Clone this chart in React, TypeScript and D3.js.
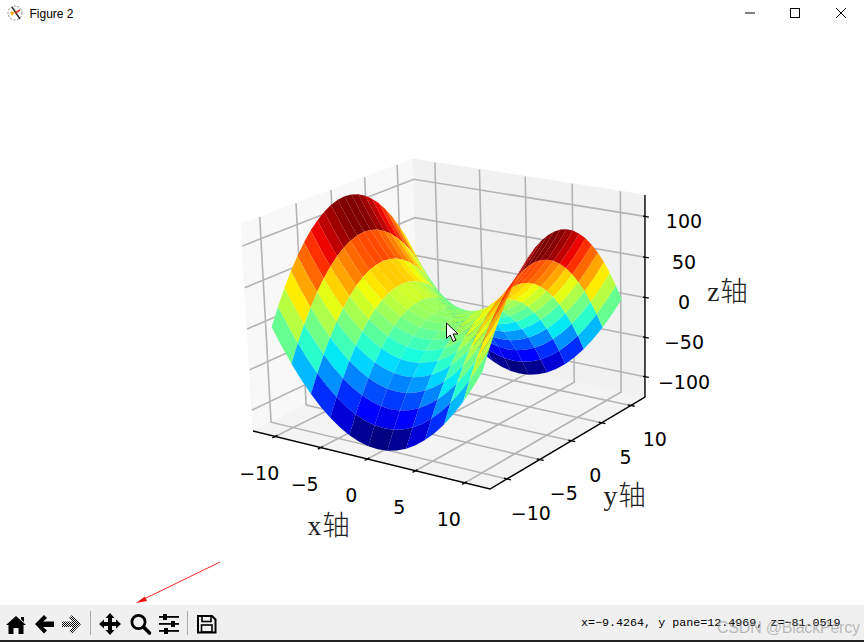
import React from "react";
import * as d3 from "d3";

// ---- data ----
const xGrid = [-11, -10, -9, -8, -7, -6, -5, -4, -3, -2, -1, 0, 1, 2, 3, 4, 5, 6, 7, 8, 9, 10, 11];
const yGrid = [-11, -10, -9, -8, -7, -6, -5, -4, -3, -2, -1, 0, 1, 2, 3, 4, 5, 6, 7, 8, 9, 10, 11];
const z11 = [0, 21, 40, 57, 72, 85, 96, 105, 112, 117, 120, 121, 120, 117, 112, 105, 96, 85, 72, 57, 40, 21, 0];
const z10 = [-21, 0, 19, 36, 51, 64, 75, 84, 91, 96, 99, 100, 99, 96, 91, 84, 75, 64, 51, 36, 19, 0, -21];
const z9 = [-40, -19, 0, 17, 32, 45, 56, 65, 72, 77, 80, 81, 80, 77, 72, 65, 56, 45, 32, 17, 0, -19, -40];
const z8 = [-57, -36, -17, 0, 15, 28, 39, 48, 55, 60, 63, 64, 63, 60, 55, 48, 39, 28, 15, 0, -17, -36, -57];
const z7 = [-72, -51, -32, -15, 0, 13, 24, 33, 40, 45, 48, 49, 48, 45, 40, 33, 24, 13, 0, -15, -32, -51, -72];
const z6 = [-85, -64, -45, -28, -13, 0, 11, 20, 27, 32, 35, 36, 35, 32, 27, 20, 11, 0, -13, -28, -45, -64, -85];
const z5 = [-96, -75, -56, -39, -24, -11, 0, 9, 16, 21, 24, 25, 24, 21, 16, 9, 0, -11, -24, -39, -56, -75, -96];
const z4 = [-105, -84, -65, -48, -33, -20, -9, 0, 7, 12, 15, 16, 15, 12, 7, 0, -9, -20, -33, -48, -65, -84, -105];
const z3 = [-112, -91, -72, -55, -40, -27, -16, -7, 0, 5, 8, 9, 8, 5, 0, -7, -16, -27, -40, -55, -72, -91, -112];
const z2 = [-117, -96, -77, -60, -45, -32, -21, -12, -5, 0, 3, 4, 3, 0, -5, -12, -21, -32, -45, -60, -77, -96, -117];
const z1 = [-120, -99, -80, -63, -48, -35, -24, -15, -8, -3, 0, 1, 0, -3, -8, -15, -24, -35, -48, -63, -80, -99, -120];
const z0 = [-121, -100, -81, -64, -49, -36, -25, -16, -9, -4, -1, 0, -1, -4, -9, -16, -25, -36, -49, -64, -81, -100, -121];
const zRows = [z11, z10, z9, z8, z7, z6, z5, z4, z3, z2, z1, z0, z1, z2, z3, z4, z5, z6, z7, z8, z9, z10, z11];
const xStride = 2;

const xTicks = [-10, -5, 0, 5, 10];
const yTicks = [-10, -5, 0, 5, 10];
const zTicks = [-100, -50, 0, 50, 100];
const xDomain = [-12.5, 12.5];
const yDomain = [-12.5, 12.5];
const zDomain = [-126, 126];
const statusText = "x=\u22129.4264, y pane=12.4969, z=\u221281.0519";

// ---- camera: homogeneous map of the unit axes box to the page ----
const camX = [204.17, 206.5, -19.16, 253];
const camY = [25.24, -47.73, -213.65, 431];
const camW = [-0.067, 0.096, -0.0297, 1];

const sx = d3.scaleLinear().domain(xDomain).range([0, 1]);
const sy = d3.scaleLinear().domain(yDomain).range([0, 1]);
const sz = d3.scaleLinear().domain(zDomain).range([0, 1]);

const dot = (c: number[], u: number, v: number, w: number) => c[0] * u + c[1] * v + c[2] * w + c[3];
function project(x: number, y: number, z: number): [number, number] {
  const u = sx(x), v = sy(y), w = sz(z);
  const d = dot(camW, u, v, w);
  return [dot(camX, u, v, w) / d, dot(camY, u, v, w) / d];
}
const depth = (x: number, y: number, z: number) => dot(camW, sx(x), sy(y), sz(z));

// jet colormap
const jetR = d3.scaleLinear().domain([0, 0.35, 0.66, 0.89, 1]).range([0, 0, 1, 1, 0.5]);
const jetG = d3.scaleLinear().domain([0, 0.125, 0.375, 0.64, 0.91, 1]).range([0, 0, 1, 1, 0, 0]);
const jetB = d3.scaleLinear().domain([0, 0.11, 0.34, 0.65, 1]).range([0.5, 1, 1, 0, 0]);
function jet(t: number) {
  const q = Math.min(255, Math.floor(t * 256)) / 255;
  return d3.rgb(jetR(q) * 255, jetG(q) * 255, jetB(q) * 255).formatHex();
}

const line = d3.line();
const poly = (pts: [number, number][]) => line(pts) + "Z";

type Cell = { d: string; avg: number; dep: number };
const cells: Cell[] = [];
for (let i = 0; i + xStride < xGrid.length; i += xStride) {
  for (let j = 0; j < yGrid.length - 1; j++) {
    const c: [number, number, number][] = [];
    for (let k = 0; k <= xStride; k++) c.push([xGrid[i + k], yGrid[j], zRows[i + k][j]]);
    for (let k = xStride; k >= 0; k--) c.push([xGrid[i + k], yGrid[j + 1], zRows[i + k][j + 1]]);
    cells.push({
      d: poly(c.map((p) => project(p[0], p[1], p[2]))),
      avg: d3.mean(c, (p) => p[2]) as number,
      dep: d3.mean(c, (p) => depth(p[0], p[1], p[2])) as number,
    });
  }
}
cells.sort((a, b) => b.dep - a.dep);
const [cMin, cMax] = d3.extent(cells, (c) => c.avg) as [number, number];
const norm = d3.scaleLinear().domain([cMin, cMax]).range([0, 1]);

const [x0, x1] = xDomain, [y0, y1] = yDomain, [z0b, z1b] = zDomain;
const panes = [
  { fill: "#f8f8f8", pts: [project(x0, y0, z0b), project(x0, y1, z0b), project(x0, y1, z1b), project(x0, y0, z1b)] },
  { fill: "#f1f1f1", pts: [project(x0, y1, z0b), project(x1, y1, z0b), project(x1, y1, z1b), project(x0, y1, z1b)] },
  { fill: "#f4f4f4", pts: [project(x0, y0, z0b), project(x1, y0, z0b), project(x1, y1, z0b), project(x0, y1, z0b)] },
];

const gridLines: [number, number][][] = [
  ...xTicks.map((t) => [project(t, y0, z0b), project(t, y1, z0b), project(t, y1, z1b)]),
  ...yTicks.map((t) => [project(x1, t, z0b), project(x0, t, z0b), project(x0, t, z1b)]),
  ...zTicks.map((t) => [project(x0, y0, t), project(x0, y1, t), project(x1, y1, t)]),
];

const axisLines: [number, number][][] = [
  [project(x0, y0, z0b), project(x1, y0, z0b), project(x1, y1, z0b), project(x1, y1, z1b)],
];
const tickMarks: [number, number][][] = [
  ...xTicks.map((t) => [project(t, y0 - 0.4, z0b), project(t, y0 + 0.3, z0b)]),
  ...yTicks.map((t) => [project(x1 - 0.3, t, z0b), project(x1 + 0.4, t, z0b)]),
  ...zTicks.map((t) => [project(x1 - 0.2, y1, t), project(x1 + 0.4, y1, t)]),
];

const fmt = (n: number) => String(n).replace("-", "\u2212");
const tickFont = "'DejaVu Sans', sans-serif";
const cjkFont = "'Liberation Serif', 'Noto Sans CJK SC', serif";

const toolbarTop = 605;

function Toolbar() {
  return (
    <g>
      <defs>
        <pattern id="dith" width="2" height="2" patternUnits="userSpaceOnUse">
          <rect width="1" height="1" fill="#000" />
          <rect x="1" y="1" width="1" height="1" fill="#000" />
        </pattern>
      </defs>
      <rect x={0} y={toolbarTop} width={864} height={36} fill="#f0f0f0" />
      <rect x={0} y={640} width={864} height={2} fill="#222" />
      {/* home */}
      <path d="M16 616 L26 625 L23.5 625 L23.5 634 L18.5 634 L18.5 628 L13.5 628 L13.5 634 L8.5 634 L8.5 625 L6 625 Z M21 617 L24 617 L24 622 L21 619.5 Z" fill="#000" />
      {/* back */}
      <path d="M35 624 L44 615 L47 618 L43 621.500 L54 621.500 L54 627 L43 627 L47 630.500 L44 633.500 Z" fill="#000" />
      {/* forward */}
      <path d="M81 624 L72 615 L69 618 L73 621.500 L62 621.500 L62 627 L73 627 L69 630.500 L72 633.500 Z" fill="url(#dith)" />
      <rect x={90} y={611} width={1} height={24} fill="#aaa" />
      {/* move */}
      <path d="M110 613 L114.500 618 L112 618 L112 622 L116 622 L116 619.500 L121 624 L116 628.500 L116 626 L112 626 L112 630 L114.500 630 L110 635 L105.500 630 L108 630 L108 626 L104 626 L104 628.500 L99 624 L104 619.500 L104 622 L108 622 L108 618 L105.500 618 Z" fill="#000" />
      {/* zoom */}
      <circle cx={138.5} cy={622} r={6.6} fill="none" stroke="#000" strokeWidth={2.8} />
      <line x1={143.5} y1={627} x2={149.5} y2={633} stroke="#000" strokeWidth={3.6} strokeLinecap="round" />
      {/* sliders */}
      <g fill="#000">
        <rect x={159} y={616} width={20} height={1.8} />
        <rect x={159} y={623} width={20} height={1.8} />
        <rect x={159} y={630} width={20} height={1.8} />
        <rect x={163} y={614} width={4} height={6} />
        <rect x={171} y={621} width={4} height={6} />
        <rect x={164} y={628} width={4} height={6} />
      </g>
      <rect x={187} y={611} width={1} height={24} fill="#aaa" />
      {/* save */}
      <path d="M198 616 L212 616 L215.500 619.500 L215.500 632.500 L198 632.500 Z" fill="none" stroke="#000" strokeWidth={2} />
      <rect x={202} y={616} width={9} height={5.5} fill="none" stroke="#000" strokeWidth={1.6} />
      <rect x={201.5} y={625} width={10.5} height={7} fill="none" stroke="#000" strokeWidth={1.6} />
      <text x={581} y={626} fontFamily="'Liberation Mono', monospace" fontSize={11.7} fill="#000">{statusText}</text>
      <text x={717} y={633} fontFamily="'Liberation Sans', sans-serif" fontSize={16} fill="#8a8a8a" fillOpacity={0.55} textLength={143}>CSDN @BlackPercy</text>
    </g>
  );
}

export default function App() {
  return (
    <svg width={864} height={642} viewBox="0 0 864 642" style={{ position: "fixed", left: 0, top: 0, display: "block", background: "#fff" }}>
      {/* window title bar */}
      <circle cx={15} cy={13} r={7} fill="none" stroke="#888" strokeWidth={1} strokeDasharray="2 1.5" />
      <path d="M10 12 L15.500 11.500 L12 16 Z" fill="#f5a623" />
      <path d="M12 7 L20 19" stroke="#333" strokeWidth={1.5} />
      <path d="M15 13 L20 10" stroke="#d9301f" strokeWidth={1.5} />
      <text x={29.5} y={18} fontFamily="'Liberation Sans', sans-serif" fontSize={12} fill="#000">Figure 2</text>
      <line x1={745} y1={13} x2={755} y2={13} stroke="#000" strokeWidth={1} />
      <rect x={790.5} y={8.5} width={9} height={9} fill="none" stroke="#000" strokeWidth={1} />
      <path d="M836 8 L846 18 M846 8 L836 18" stroke="#000" strokeWidth={1} />

      {/* panes and grid */}
      {panes.map((p, i) => (
        <path key={i} d={poly(p.pts)} fill={p.fill} stroke={p.fill} strokeWidth={1} />
      ))}
      {gridLines.map((g, i) => (
        <path key={i} d={line(g) as string} fill="none" stroke="#b4b4b4" strokeWidth={1.6} />
      ))}
      {axisLines.map((a, i) => (
        <path key={i} d={line(a) as string} fill="none" stroke="#000" strokeWidth={1.4} />
      ))}
      {tickMarks.map((a, i) => (
        <path key={i} d={line(a) as string} fill="none" stroke="#000" strokeWidth={1.3} />
      ))}

      {/* surface */}
      {cells.map((c, i) => (
        <path key={i} d={c.d} fill={jet(norm(c.avg))} stroke="none" />
      ))}

      {/* tick labels */}
      <g fontFamily={tickFont} fontSize={19} fill="#000" textAnchor="middle">
        {xTicks.map((t) => {
          const [px, py] = project(t, y0, z0b);
          return <text key={t} x={px - 16} y={py + 43.5}>{fmt(t)}</text>;
        })}
        {yTicks.map((t) => {
          const [px, py] = project(x1, t, z0b);
          return <text key={t} x={px + 24} y={py + 41}>{fmt(t)}</text>;
        })}
        {zTicks.map((t) => {
          const [px, py] = project(x1, y1, t);
          return <text key={t} x={684} y={py + 12}>{fmt(t)}</text>;
        })}
      </g>

      {/* axis labels */}
      <g fontFamily={cjkFont} fontSize={27.5} fill="#222" fontWeight={300} textAnchor="middle">
        <text x={329} y={535} letterSpacing={1}>x轴</text>
        <text x={625} y={505} letterSpacing={1}>y轴</text>
        <text x={728} y={301} letterSpacing={1}>z轴</text>
      </g>

      {/* annotation arrow */}
      <line x1={220} y1={562} x2={142} y2={600} stroke="#f01010" strokeWidth={0.9} />
      <path d="M136 603 L145 596.500 L147 601 Z" fill="#f01010" />

      {/* mouse pointer */}
      <path transform="translate(446.500 323)" d="M0 0 L0 15.500 L3.700 12 L6.500 18.500 L9.500 17.200 L6.600 11 L11.500 11 Z" fill="#fff" stroke="#000" strokeWidth={1} strokeLinejoin="round" />

      <Toolbar />
    </svg>
  );
}
